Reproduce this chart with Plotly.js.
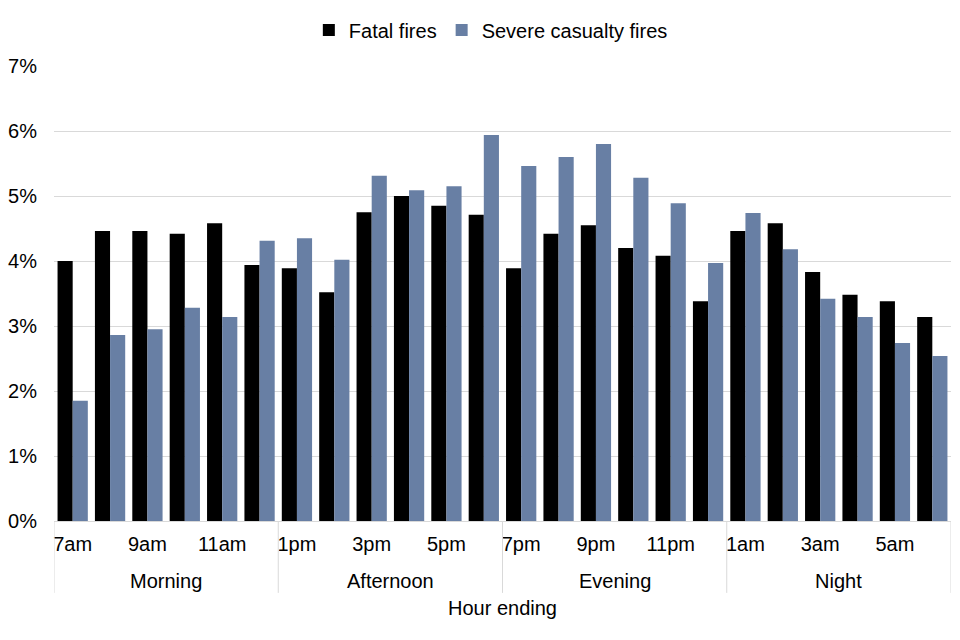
<!DOCTYPE html>
<html>
<head>
<meta charset="utf-8">
<script src="https://cdn.plot.ly/plotly-3.0.1.min.js"></script>
<style>html,body{margin:0;padding:0;background:#fff;}#chart{width:960px;height:640px;}</style>
</head>
<body>
<div id="chart"></div>
<script>
const hours = ["7am","8am","9am","10am","11am","12pm","1pm","2pm","3pm","4pm","5pm","6pm",
               "7pm","8pm","9pm","10pm","11pm","12am","1am","2am","3am","4am","5am","6am"];
const fatalFires = [4.0,4.46,4.46,4.42,4.58,3.94,3.89,3.52,4.75,5.0,4.85,4.71,
                    3.89,4.42,4.55,4.2,4.08,3.38,4.46,4.58,3.83,3.48,3.38,3.14];
const severeFires = [1.85,2.86,2.95,3.28,3.14,4.31,4.35,4.02,5.31,5.09,5.15,5.94,
                     5.46,5.6,5.8,5.28,4.89,3.97,4.74,4.18,3.42,3.14,2.74,2.54];
const tickLabels = ["7am","9am","11am","1pm","3pm","5pm","7pm","9pm","11pm","1am","3am","5am"];
const groups = ["Morning","Afternoon","Evening","Night"];
const groupSize = 6;

const font = "Liberation Sans, Arial, sans-serif";
const fs = 20;
const data = [
  {type:"bar", name:"Fatal fires", x:hours, y:fatalFires.map(v=>v/100), marker:{color:"#000000"}},
  {type:"bar", name:"Severe casualty fires", x:hours, y:severeFires.map(v=>v/100), marker:{color:"#687fa4"}}
];

const shapes = [];
for (let i=0;i<=groups.length;i++){
  shapes.push({type:"line", xref:"x", yref:"paper", x0:i*groupSize-0.5, x1:i*groupSize-0.5,
    y0:0, y1:-0.158, line:{color:"#d9d9d9", width:1}});
}
const annotations = groups.map((g,i)=>({xref:"x", yref:"paper", x:i*groupSize+(groupSize-1)/2,
  y:-0.132, text:g, showarrow:false, yanchor:"middle", font:{family:font, size:fs, color:"#000"}}));

const layout = {
  width:960, height:640,
  margin:{l:54, r:9, t:66, b:119},
  paper_bgcolor:"#fff", plot_bgcolor:"#fff",
  barmode:"group", bargap:0.19, bargroupgap:0,
  font:{family:font, size:fs, color:"#000"},
  showlegend:true,
  legend:{orientation:"h", x:0.487, xanchor:"center", y:1.079, yanchor:"middle",
          font:{family:font, size:fs, color:"#000"}, itemwidth:20, traceorder:"normal"},
  xaxis:{type:"category", tickmode:"array", tickvals:tickLabels, ticktext:tickLabels,
         showgrid:false, showline:true, linecolor:"#d9d9d9", linewidth:1, ticks:"",
         tickfont:{family:font, size:fs, color:"#000"}, ticklabelstandoff:5,
         range:[-0.5,23.5], automargin:false,
         title:{text:"Hour ending", font:{family:font, size:fs, color:"#000"}, standoff:46}},
  yaxis:{range:[0,0.07], dtick:0.01, tickformat:".0%", showgrid:true, gridcolor:"#d9d9d9",
         gridwidth:1, zeroline:false, showline:false, ticks:"", automargin:false,
         tickfont:{family:font, size:fs, color:"#000"}, ticklabelstandoff:16},
  shapes:shapes, annotations:annotations
};
Plotly.newPlot("chart", data, layout, {displayModeBar:false, staticPlot:true});
</script>
</body>
</html>
